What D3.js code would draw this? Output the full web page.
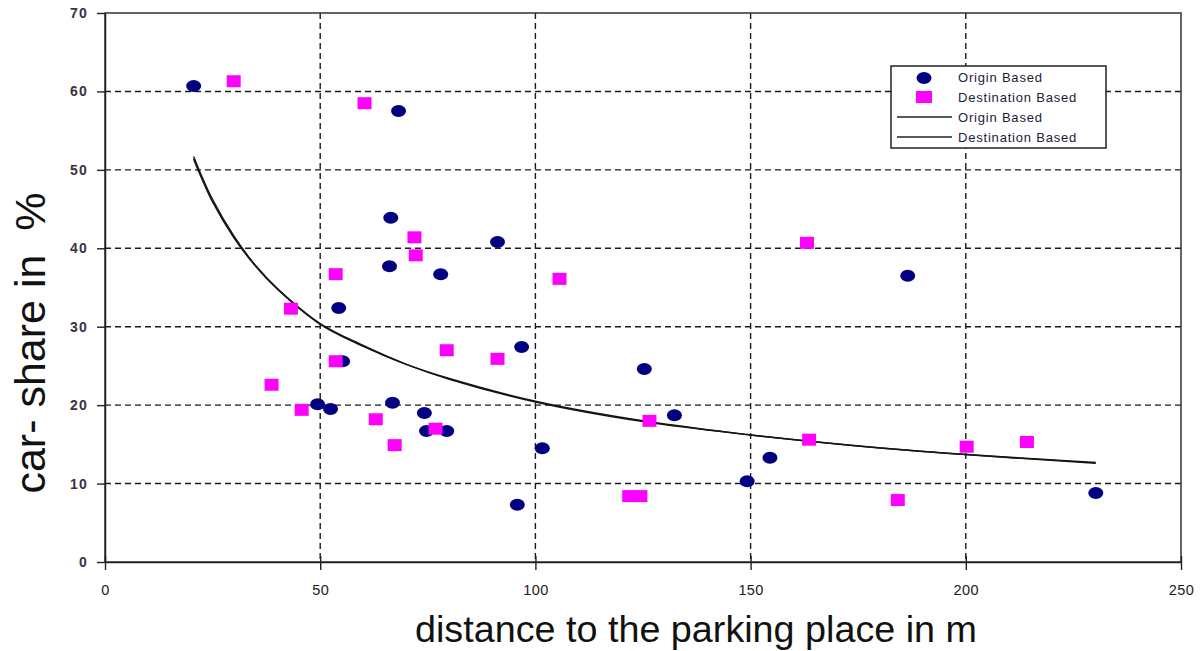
<!DOCTYPE html>
<html>
<head>
<meta charset="utf-8">
<script src="https://cdn.jsdelivr.net/npm/d3@7"></script>
<style>
  body { margin: 0; background: #fff; }
  svg text { font-family: Arial, "Liberation Sans", sans-serif; }
</style>
</head>
<body>
<div class="chart"></div>
<script>
// origin based points (distance m, car share %)
let originDist = [20.6, 68.2, 66.4, 91.2, 66.1, 78.0, 54.3, 55.2, 96.8, 49.4, 52.4, 66.8, 74.2, 74.7, 79.4, 101.6, 95.8, 125.3, 132.3, 154.5, 149.2, 186.5, 230.2]
let originShare = [60.7, 57.5, 43.9, 40.8, 37.7, 36.7, 32.4, 25.6, 27.4, 20.1, 19.5, 20.3, 19.0, 16.7, 16.7, 14.5, 7.3, 24.6, 18.7, 13.3, 10.3, 36.5, 8.8]

// destination based points
let destDist = [29.9, 60.3, 71.9, 72.2, 53.6, 43.2, 105.6, 79.4, 91.2, 53.6, 38.7, 45.7, 62.9, 67.3, 76.8, 126.5, 121.8, 124.4, 163.1, 163.6, 184.2, 200.2, 214.2]
let destShare = [61.3, 58.5, 41.4, 39.1, 36.7, 32.3, 36.1, 27.0, 25.9, 25.6, 22.6, 19.4, 18.2, 14.9, 17.0, 18.0, 8.4, 8.4, 40.7, 15.6, 7.9, 14.7, 15.3]

// trend lines
let trendDist = [20.6, 22, 25, 30, 35, 40, 50, 60, 70, 80, 100, 125, 150, 175, 200, 230.2]
let originTrend = [51.4, 49.5, 45.9, 41.3, 37.7, 34.8, 30.3, 27.5, 25.2, 23.4, 20.5, 18.0, 16.2, 14.8, 13.7, 12.6]
let destTrend = [51.7, 49.8, 46.2, 41.5, 37.8, 34.9, 30.4, 27.6, 25.2, 23.3, 20.4, 17.9, 16.2, 14.8, 13.7, 12.7]

let xTicks = [0, 50, 100, 150, 200, 250]
let yTicks = [0, 10, 20, 30, 40, 50, 60, 70]

let width = 1202
let height = 651
let plotLeft = 105, plotRight = 1181, plotTop = 13, plotBottom = 562

let svg = d3.select(".chart")
  .append("svg")
  .attr("width", width)
  .attr("height", height)

let x = d3.scaleLinear().domain([0, 250]).range([plotLeft, plotRight])
let y = d3.scaleLinear().domain([0, 70]).range([plotBottom, plotTop])

// dashed grid
svg.append("g")
  .selectAll("line")
  .data(yTicks.slice(1, -1))
  .enter()
  .append("line")
  .attr("x1", plotLeft)
  .attr("x2", plotRight)
  .attr("y1", d => y(d))
  .attr("y2", d => y(d))
  .attr("stroke", "#1a1a1a")
  .attr("stroke-width", 1.4)
  .attr("stroke-dasharray", "6,4")

svg.append("g")
  .selectAll("line")
  .data(xTicks.slice(1, -1))
  .enter()
  .append("line")
  .attr("x1", d => x(d))
  .attr("x2", d => x(d))
  .attr("y1", plotTop)
  .attr("y2", plotBottom)
  .attr("stroke", "#1a1a1a")
  .attr("stroke-width", 1.4)
  .attr("stroke-dasharray", "6,4")

// frame
svg.append("rect")
  .attr("x", plotLeft)
  .attr("y", plotTop)
  .attr("width", plotRight - plotLeft)
  .attr("height", plotBottom - plotTop)
  .attr("fill", "none")
  .attr("stroke", "#333")
  .attr("stroke-width", 1.5)

// axes
let yAxis = svg.append("g")
  .attr("transform", `translate(${plotLeft},0)`)
  .call(d3.axisLeft(y).tickValues(yTicks).tickSize(8).tickSizeOuter(0).tickPadding(9))
yAxis.select(".domain").attr("stroke", "#222").attr("stroke-width", 1.5)
yAxis.selectAll(".tick line").attr("stroke", "#222").attr("stroke-width", 1.4)
yAxis.selectAll("text")
  .attr("font-size", 14)
  .attr("font-weight", "bold")
  .attr("letter-spacing", 1.2)
  .attr("fill", "#3a3340")

let xAxis = svg.append("g")
  .attr("transform", `translate(0,${plotBottom})`)
  .call(d3.axisBottom(x).tickValues(xTicks).tickSize(8).tickSizeOuter(0).tickPadding(15))
xAxis.select(".domain").attr("stroke", "#222").attr("stroke-width", 1.5)
xAxis.selectAll(".tick line").attr("y1", -6).attr("stroke", "#222").attr("stroke-width", 1.4)
xAxis.selectAll("text")
  .attr("font-size", 14.5)
  .attr("fill", "#1a1a1a")
  .attr("letter-spacing", 0.4)

// trend lines
let line = d3.line().curve(d3.curveCatmullRom)
let trends = [originTrend, destTrend]
svg.append("g")
  .selectAll("path")
  .data(trends)
  .enter()
  .append("path")
  .attr("d", vals => line(vals.map((v, i) => [x(trendDist[i]), y(v)])))
  .attr("fill", "none")
  .attr("stroke", "#151515")
  .attr("stroke-width", 1.5)

// points
let origin = originDist.map((d, i) => ({ dist: d, share: originShare[i] }))
let dest = destDist.map((d, i) => ({ dist: d, share: destShare[i] }))

svg.append("g")
  .selectAll("ellipse")
  .data(origin)
  .enter()
  .append("ellipse")
  .attr("cx", d => x(d.dist))
  .attr("cy", d => y(d.share))
  .attr("rx", 7.5)
  .attr("ry", 6)
  .attr("fill", "#000080")

svg.append("g")
  .selectAll("rect")
  .data(dest)
  .enter()
  .append("rect")
  .attr("x", d => x(d.dist) - 7)
  .attr("y", d => y(d.share) - 6)
  .attr("width", 14)
  .attr("height", 12)
  .attr("fill", "#ff00ff")

// legend
let legend = svg.append("g")
legend.append("rect")
  .attr("x", 891)
  .attr("y", 66)
  .attr("width", 215)
  .attr("height", 82)
  .attr("fill", "#fff")
  .attr("stroke", "#222")
  .attr("stroke-width", 1.5)

legend.append("ellipse")
  .attr("cx", 924).attr("cy", 78)
  .attr("rx", 7.5).attr("ry", 6)
  .attr("fill", "#000080")
legend.append("rect")
  .attr("x", 916).attr("y", 91)
  .attr("width", 16).attr("height", 12)
  .attr("fill", "#ff00ff")
legend.selectAll("line.key")
  .data([117, 137])
  .enter()
  .append("line")
  .attr("x1", 897).attr("x2", 952)
  .attr("y1", d => d).attr("y2", d => d)
  .attr("stroke", "#222")
  .attr("stroke-width", 1.3)

let legendLabels = ["Origin Based", "Destination Based", "Origin Based", "Destination Based"]
let legendRows = [77, 97, 117, 137]
legend.selectAll("text")
  .data(legendLabels)
  .enter()
  .append("text")
  .attr("x", 958)
  .attr("y", (d, i) => legendRows[i])
  .attr("dy", "0.36em")
  .attr("font-size", 13)
  .attr("letter-spacing", 0.8)
  .attr("fill", "#201c38")
  .text(d => d)

// axis titles
svg.append("text")
  .attr("x", 696)
  .attr("y", 642)
  .attr("text-anchor", "middle")
  .attr("font-size", 36)
  .attr("textLength", 562)
  .attr("lengthAdjust", "spacingAndGlyphs")
  .attr("fill", "#111")
  .text("distance to the parking place in m")

svg.append("text")
  .attr("transform", "translate(45,343) rotate(-90)")
  .attr("text-anchor", "middle")
  .attr("font-size", 43)
  .attr("fill", "#111")
  .style("white-space", "pre")
  .text("car- share in  %")
</script>
</body>
</html>
